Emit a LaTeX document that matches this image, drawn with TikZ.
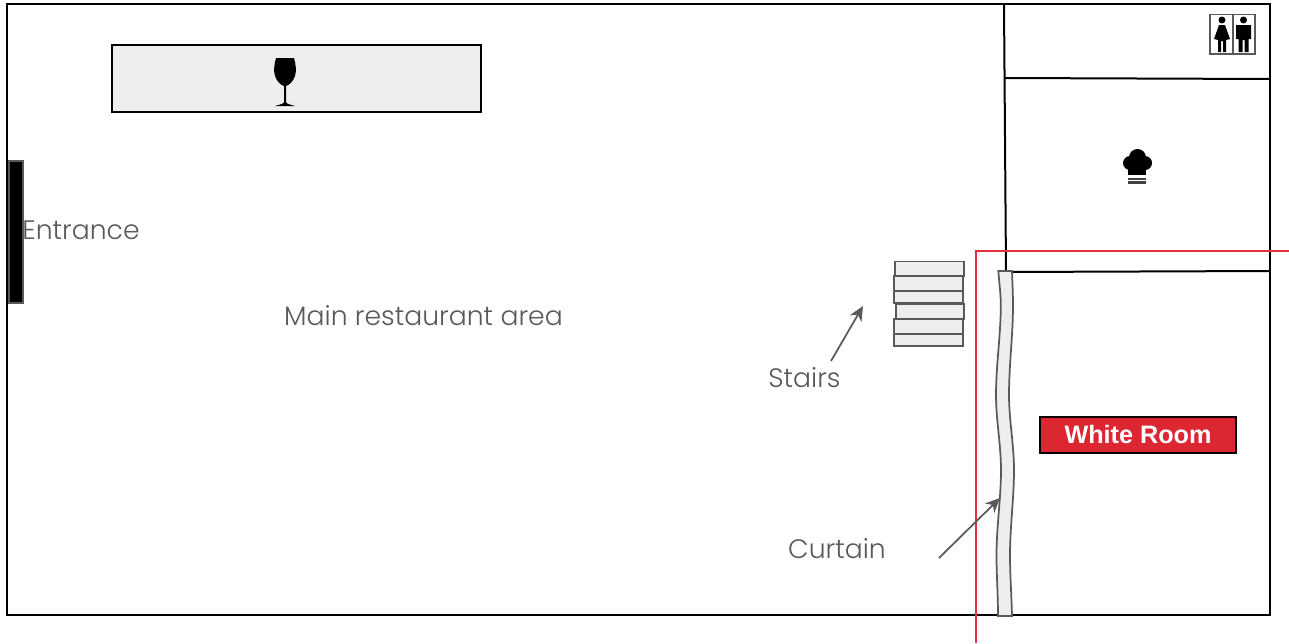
\documentclass[tikz,border=0pt]{standalone}
\usepackage{fontspec}
\setmainfont{Poppins Light}
\newfontfamily\whitefont{Liberation Sans}
\usetikzlibrary{arrows.meta}
\definecolor{txt}{HTML}{595959}
\definecolor{pale}{HTML}{EEEEEE}
\definecolor{redbox}{HTML}{DC2632}
\definecolor{redline}{HTML}{E4303C}
\tikzset{
 wall/.style={draw=black,line width=1.5pt},
 stairbox/.style={draw=txt,fill=pale,line width=1.3pt},
 label/.style={text=txt,font=\fontsize{20pt}{22pt}\selectfont,inner sep=0pt,anchor=center},
 pointer/.style={draw=txt,line width=1.3pt,-{Stealth[length=11pt,width=10pt]}},
 icon/.style={fill=black,draw=none},
}
\begin{document}
\begin{tikzpicture}[x=0.75pt,y=-0.75pt]
\useasboundingbox (0,0) rectangle (1289,643);
% walls
\draw[wall] (7,4) rectangle (1270,615);
\draw[wall] (1004,4) -- (1006,272);
\draw[wall] (1005,78) -- (1270,79);
\draw[wall] (1006,272) -- (1270,271);
% bar
\draw[wall,fill=pale] (112,45) rectangle (481,112);
\path[icon] (276,58) -- (294,58) .. controls (296,65) and (296.5,71) .. (295,76)
  .. controls (293,82) and (289,85) .. (286,86) -- (286,102) .. controls (286,104) and (292,105) .. (295,106)
  -- (275,106) .. controls (278,105) and (284,104) .. (284,102) -- (284,86)
  .. controls (281,85) and (277,82) .. (275,76) .. controls (273.5,71) and (274,65) .. (276,58) -- cycle;
% entrance
\draw[draw=txt,fill=black,line width=1.3pt] (9,161) rectangle (23,303);
% stairs
\draw[stairbox] (895,261.5) rectangle (964,276);
\draw[stairbox] (894,276) rectangle (963,291);
\draw[stairbox] (894,291) rectangle (963,303);
\draw[stairbox] (896,304) rectangle (964,319);
\draw[stairbox] (894,319) rectangle (963,334);
\draw[stairbox] (894,334) rectangle (963,346);
% red room
\draw[draw=redline,line width=1.5pt] (975.5,643) -- (975.5,250.5) -- (1289,250.5);
% curtain
\draw[stairbox] (998.3,271) .. controls (999.5,285) and (1000.8,295) .. (1000.8,305)
  .. controls (1000.8,335) and (996,365) .. (996,395)
  .. controls (996,420) and (1001,445) .. (1001,470)
  .. controls (1001,498) and (996.5,527) .. (996.5,555)
  .. controls (996.5,575) and (998,595) .. (998,616)
  -- (1012,616) .. controls (1011.5,595) and (1010,575) .. (1010,555)
  .. controls (1010,527) and (1014,498) .. (1014,470)
  .. controls (1014,445) and (1009,420) .. (1009,395)
  .. controls (1009,365) and (1013,335) .. (1013,305)
  .. controls (1013,295) and (1012.5,285) .. (1012,271) -- cycle;
% chef hat
\path[icon] (1137.5,157.5) circle (8.5);
\path[icon] (1130,163) circle (7);
\path[icon] (1145,163) circle (7);
\path[icon] (1128,160) rectangle (1146,175);
\path[fill=black!75] (1128,177.5) rectangle (1146,179.5);
\path[fill=black!75] (1128,180.5) rectangle (1146,183.5);
% restroom
\draw[draw=txt,fill=white,line width=1.3pt] (1210,14.5) rectangle (1255,54);
\draw[draw=txt,line width=1.3pt] (1233,14.5) -- (1233,54);
\path[icon] (1222,20) circle (3.5);
\path[icon] (1219,25) -- (1225,25) -- (1230,39) -- (1226,40) -- (1226,52) -- (1223,52) -- (1223,41) -- (1221,41) -- (1221,52) -- (1218,52) -- (1218,40) -- (1214,39) -- cycle;
\path[icon] (1243.5,20) circle (3.5);
\path[icon] (1236,25) -- (1251,25) -- (1251,39) -- (1248.5,39) -- (1248.5,52) -- (1244.5,52) -- (1244.5,40) -- (1242.5,40) -- (1242.5,52) -- (1238.5,52) -- (1238.5,39) -- (1236,39) -- cycle;
% labels
\node[label] (entrance) at (81,230) {Entrance};
\node[label] (main) at (423.5,316) {Main restaurant area};
\node[label] (stairs) at (804.5,378) {Stairs};
\node[label] (curtain) at (837,549) {Curtain};
\node[draw=black,fill=redbox,line width=1.5pt,inner sep=0pt,minimum width=147pt,minimum height=27pt] (white) at (1138,435) {};
\node[text=white,inner sep=0pt,font=\whitefont\bfseries\fontsize{18.9pt}{20pt}\selectfont] (whitelabel) at (1138,434) {White Room};
% pointers
\coordinate (stairsTail) at (831,361);
\coordinate (stairsHead) at (863,306);
\coordinate (curtainTail) at (939,558);
\coordinate (curtainHead) at (1000,498);
\draw[pointer] (stairsTail) -- (stairsHead);
\draw[pointer] (curtainTail) -- (curtainHead);
\end{tikzpicture}
\end{document}
